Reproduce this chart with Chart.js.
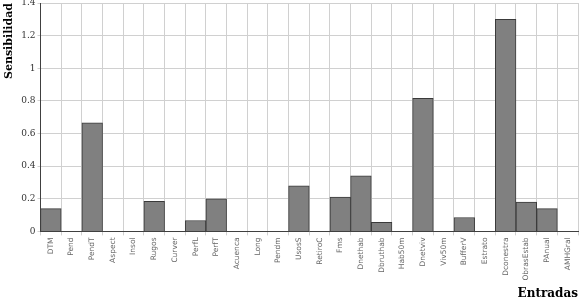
<!DOCTYPE html>
<html>
<head>
<meta charset="utf-8">
<script src="https://cdn.jsdelivr.net/npm/chart.js@4"></script>
<style>
  html, body { margin: 0; padding: 0; background: #fff; }
  #wrap { width: 580px; height: 303px; }
</style>
</head>
<body>
<div id="wrap"><canvas id="myChart"></canvas></div>
<script>
const entradas = ["DTM", "Pend", "PendT", "Aspect", "Insol", "Rugos", "Curver", "PerfL", "PerfT",
  "Acuenca", "Long", "Pendm", "UsosS", "RetiroC", "Fms", "Dnethab", "Dbruthab", "Hab50m",
  "Dnetviv", "Viv50m", "BufferV", "Estrato", "Dconestra", "ObrasEstab", "PAnual", "AMHGral"];
const sensibilidad = [0.14, 0, 0.665, 0, 0, 0.185, 0, 0.067, 0.2,
  0, 0, 0, 0.28, 0, 0.21, 0.34, 0.055, 0,
  0.815, 0, 0.085, 0, 1.3, 0.18, 0.14, 0];
const yTicks = [0, 0.2, 0.4, 0.6, 0.8, 1, 1.2, 1.4];

const ctx = document.getElementById("myChart").getContext("2d");
const myChart = new Chart(ctx, {
  type: "bar",
  data: {
    labels: entradas,
    datasets: [
      {
        label: "Sensibilidad",
        data: sensibilidad,
        backgroundColor: "#808080",
        borderColor: "#3a3a3a",
        borderWidth: 1,
        categoryPercentage: 1,
        barPercentage: 1,
      },
    ],
  },
  options: {
    responsive: true,
    maintainAspectRatio: false,
    animation: false,
    layout: { padding: { top: 3, right: 2, left: 3, bottom: 0 } },
    plugins: {
      legend: { display: false },
      tooltip: { enabled: false },
    },
    scales: {
      x: {
        grid: { color: "#d0d0d0", offset: true, drawTicks: true, tickLength: 4 },
        border: { color: "#404040" },
        ticks: {
          color: "#666",
          font: { family: "DejaVu Sans", size: 7.5 },
          maxRotation: 90,
          minRotation: 90,
          autoSkip: false,
          padding: 2,
        },
        title: {
          display: true,
          text: "Entradas",
          align: "end",
          color: "#000",
          font: { family: "DejaVu Serif", size: 12, weight: "bold" },
          padding: { top: 4, bottom: 2 },
        },
      },
      y: {
        min: 0,
        max: 1.4,
        afterBuildTicks: (axis) => {
          axis.ticks = yTicks.map((v) => ({ value: v }));
        },
        afterFit: (axis) => {
          axis.paddingTop = 0;
        },
        grid: { color: "#d0d0d0", tickLength: 3 },
        border: { color: "#404040" },
        ticks: {
          color: "#333",
          font: { family: "DejaVu Serif", size: 9 },
          padding: 2,
          callback: (v) => String(v),
        },
        title: {
          display: true,
          text: "Sensibilidad",
          align: "end",
          color: "#000",
          font: { family: "DejaVu Serif", size: 11, weight: "bold" },
          padding: { top: 0, bottom: 3 },
        },
      },
    },
  },
});
</script>
</body>
</html>
